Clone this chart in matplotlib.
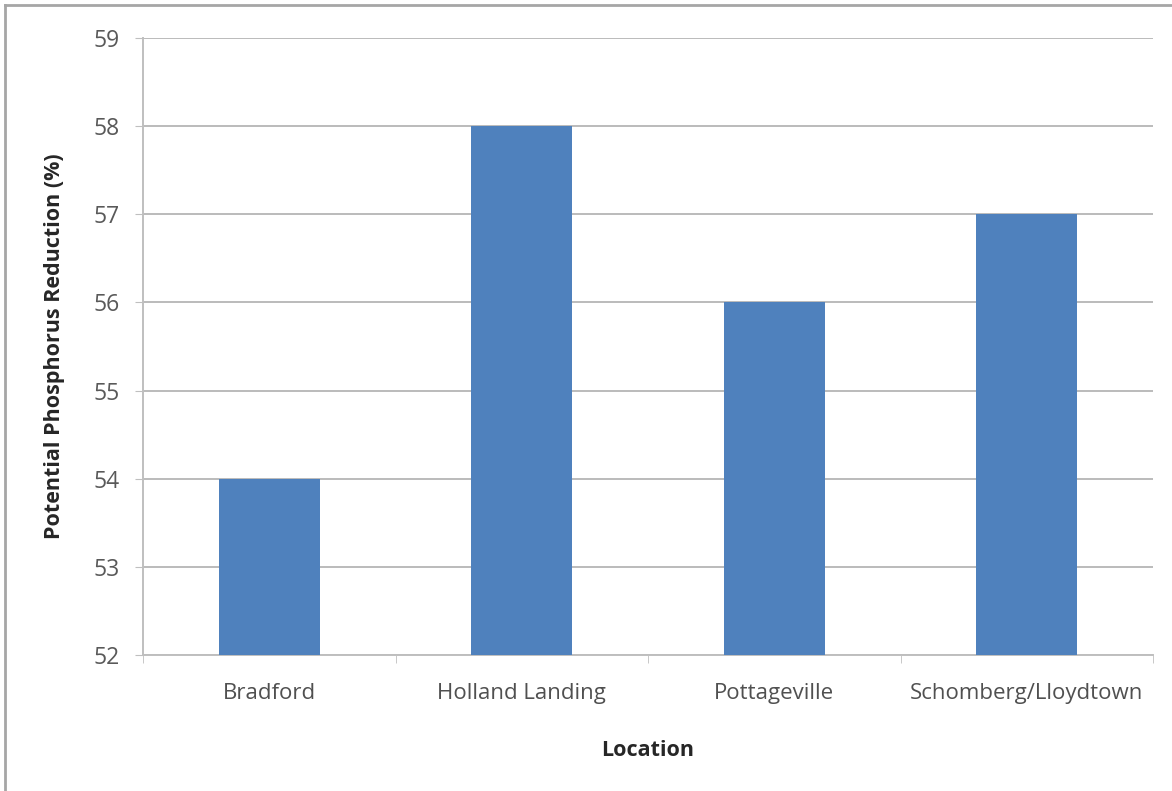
import matplotlib
matplotlib.use("Agg")
import matplotlib.pyplot as plt
from matplotlib.lines import Line2D

locations = ["Bradford", "Holland Landing", "Pottageville", "Schomberg/Lloydtown"]
reduction = [54, 58, 56, 57]
y_ticks = [52, 53, 54, 55, 56, 57, 58, 59]

plt.rcParams['font.family'] = ['Open Sans', 'DejaVu Sans']

fig = plt.figure(figsize=(11.72, 7.91), dpi=100)
ax = fig.add_axes([143/1172, 1 - 655/791, (1153 - 143)/1172, (655 - 38)/791])

x = list(range(len(locations)))
ax.bar(x, reduction, width=0.4, color="#4F81BD", zorder=3)

ax.set_ylim(52, 59)
ax.set_xlim(-0.5, len(locations) - 0.5)
ax.set_yticks(y_ticks)
ax.set_yticklabels([str(v) for v in y_ticks], fontsize=16.5, color="#595959")
ax.set_xticks(x)
ax.set_xticklabels(locations, fontsize=16, color="#505050")
ax.tick_params(axis='x', length=0, pad=20)
ax.set_xticks([i - 0.5 for i in range(len(locations) + 1)], minor=True)
ax.tick_params(axis='x', which='minor', length=6, color="#BFBFBF", direction='out')
ax.tick_params(axis='y', length=6, color="#BFBFBF", direction='out', pad=11)

ax.yaxis.grid(True, color="#BBBBBB", linewidth=1.4, zorder=0)
ax.set_axisbelow(True)
for s in ['top', 'right']:
    ax.spines[s].set_visible(False)
for s in ['left', 'bottom']:
    ax.spines[s].set_color("#BFBFBF")
    ax.spines[s].set_linewidth(1.4)

ax.set_xlabel("Location", fontsize=15.5, fontweight='bold', color="#262626", labelpad=26)
ax.set_ylabel("Potential Phosphorus Reduction (%)", fontsize=15.5, fontweight='bold', color="#262626", labelpad=20)

fig.add_artist(Line2D([5/1172, 1], [1 - 5/791, 1 - 5/791], transform=fig.transFigure,
                      color="#A6A6A6", linewidth=2))
fig.add_artist(Line2D([5/1172, 5/1172], [0, 1 - 5/791], transform=fig.transFigure,
                      color="#A6A6A6", linewidth=2))

fig.savefig("out.png", dpi=100)
